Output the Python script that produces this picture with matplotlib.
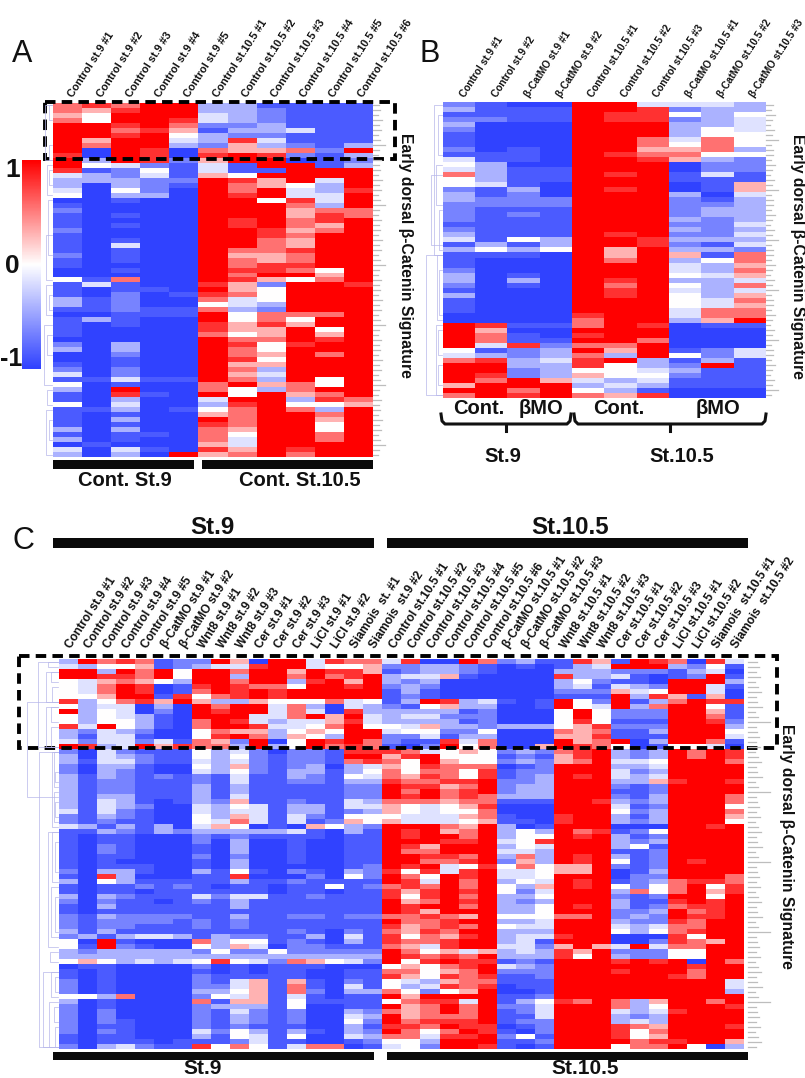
import numpy as np
import matplotlib
matplotlib.use('Agg')
import matplotlib.pyplot as plt
from matplotlib.colors import LinearSegmentedColormap
from matplotlib.patches import Rectangle

plt.rcParams['font.family'] = ['Liberation Sans', 'DejaVu Sans']

# expression levels, one digit per cell
# 0 = deep blue (-1), 5 = white (0), 9 = red (1)
level_values = [-1.0, -0.86, -0.65, -0.4, -0.15, 0.0, 0.3, 0.55, 0.8, 1.0]

rows_a = """
7 8 7 9 9 3 3 1 1 1 1
7 6 8 9 9 3 3 2 1 1 1
6 5 9 9 9 4 3 2 1 1 1
7 5 9 9 8 4 3 2 1 1 1
9 9 8 9 7 2 2 3 1 1 1
9 9 7 8 6 1 3 3 4 1 1
9 9 8 9 5 3 2 2 1 1 1
9 6 9 9 4 3 8 4 1 1 1
9 7 9 9 3 2 6 3 2 1 3
9 0 9 8 0 7 6 6 7 2 9
8 0 9 8 0 8 9 8 2 1 3
9 3 9 8 2 6 9 9 0 1 2
9 5 4 2 1 4 1 9 9 1 3
8 1 2 5 1 4 1 1 9 9 9
4 3 2 4 1 6 5 9 9 9 9
3 3 3 2 2 9 8 6 9 4 9
3 0 3 2 1 9 7 6 5 3 9
4 0 5 2 0 9 7 9 4 3 8
5 0 3 3 0 9 8 9 4 4 9
0 0 1 0 0 9 9 5 8 4 9
1 0 0 0 0 9 9 9 7 3 9
2 0 0 0 0 9 9 9 6 7 7
1 0 1 0 0 9 9 9 6 8 7
1 0 0 0 0 9 8 9 7 8 9
1 0 1 0 0 9 8 9 7 6 9
2 0 0 0 0 9 9 8 6 7 9
1 0 0 0 0 9 9 8 7 9 9
1 0 1 0 0 9 9 7 6 9 9
1 0 4 0 0 9 9 7 6 9 9
1 0 1 0 0 9 7 7 8 9 9
2 0 1 0 0 9 6 6 7 9 9
1 0 1 0 0 9 7 6 7 9 9
1 0 0 0 0 9 7 8 8 9 9
0 0 1 0 0 9 8 8 7 5 9
0 0 0 0 0 9 7 9 9 6 9
5 1 7 0 0 9 8 6 5 7 9
1 4 1 0 0 8 6 2 9 9 8
1 0 1 1 0 9 6 5 9 9 9
1 0 2 0 1 8 7 5 9 9 9
3 1 2 0 0 7 4 5 9 9 9
3 1 2 0 0 5 4 3 9 9 9
1 1 2 1 1 7 3 2 9 9 9
0 0 1 1 1 9 5 7 7 7 9
1 3 1 0 0 9 5 7 5 9 9
1 0 1 0 0 8 6 8 6 9 9
1 0 0 0 0 8 6 6 9 5 9
1 0 0 0 0 7 5 6 9 6 9
0 0 0 0 0 9 7 7 9 8 9
2 0 3 0 0 9 8 5 8 9 9
3 0 3 0 0 9 7 5 9 9 9
0 0 2 0 0 9 7 6 9 7 9
0 0 1 0 0 9 8 5 9 9 9
1 0 1 0 0 9 6 6 9 9 9
2 0 2 0 0 9 7 3 9 9 9
4 0 2 0 0 9 6 4 9 9 9
1 1 4 1 1 9 7 3 9 5 9
5 0 1 0 0 7 9 6 7 5 9
3 0 9 0 0 7 5 3 7 9 9
1 0 8 1 0 9 5 9 6 7 9
1 0 3 0 0 4 9 9 3 8 7
5 0 4 0 0 3 8 9 5 5 6
1 1 3 0 1 5 7 9 7 3 9
1 0 1 0 0 6 7 9 9 7 9
1 0 3 0 0 9 7 9 9 6 9
1 0 1 0 0 8 7 9 9 5 9
3 0 3 0 0 7 6 9 9 5 9
1 0 1 1 0 7 5 9 9 7 9
3 0 1 0 0 7 4 9 9 7 9
0 1 0 0 0 6 4 9 9 9 9
4 0 4 1 0 8 6 9 8 9 9
3 0 3 0 9 6 7 9 7 9 9
"""

rows_b = """
2 1 0 0 9 9 4 4 4 3
3 1 1 1 9 9 8 2 3 3
1 1 1 1 9 8 8 5 3 5
2 2 1 1 9 8 8 2 3 4
3 0 0 0 9 9 9 3 3 4
2 0 0 0 9 9 9 3 5 4
1 0 0 0 9 9 9 3 5 5
1 0 0 0 9 9 7 4 7 5
1 0 0 0 9 9 7 5 7 5
2 0 1 0 9 9 6 6 7 3
1 1 1 0 9 8 7 7 5 5
4 1 1 0 9 9 8 6 3 2
5 3 0 0 9 9 9 0 2 2
4 3 1 1 9 9 9 0 2 2
7 3 1 1 9 8 9 1 4 1
5 3 1 1 9 9 9 1 1 1
5 4 1 0 9 9 9 0 1 6
2 1 3 0 9 8 9 0 1 6
3 1 2 0 9 9 9 3 0 4
3 2 2 2 9 9 9 2 1 3
2 2 2 2 9 9 9 2 2 3
2 1 1 1 9 9 9 2 3 3
2 1 2 1 9 9 9 2 3 3
2 1 1 1 9 9 9 3 2 3
1 1 1 1 9 9 9 2 2 4
2 1 1 1 9 9 9 3 2 3
3 1 1 1 9 8 9 2 2 4
4 1 5 3 9 9 8 3 3 3
1 3 1 3 9 9 8 2 1 4
3 5 3 5 9 6 9 3 3 2
1 1 1 0 9 6 9 6 1 7
1 0 0 0 9 7 9 3 5 7
1 0 0 0 9 9 9 4 3 6
2 0 0 0 9 9 9 4 3 7
3 0 1 0 9 9 9 5 4 6
3 0 3 0 9 8 9 3 3 4
2 0 1 0 9 7 9 5 3 7
1 0 0 0 9 8 9 4 3 4
3 0 0 0 9 8 9 5 3 6
1 0 0 0 9 9 9 5 4 7
1 0 0 0 9 9 9 5 4 6
1 0 0 0 9 9 9 4 7 7
0 0 0 0 8 9 9 4 7 7
0 0 0 0 7 9 9 3 6 9
9 8 1 1 7 9 8 0 1 1
9 6 0 0 9 9 9 0 0 0
9 7 1 0 8 9 9 0 0 0
9 7 1 1 9 9 7 0 0 0
9 4 8 2 7 7 9 0 0 0
5 1 2 3 9 6 9 1 2 4
4 3 2 3 7 3 9 5 2 4
7 8 3 4 8 9 3 1 3 1
9 9 3 3 8 5 3 2 9 1
9 9 2 3 5 5 4 3 1 1
9 8 2 3 6 5 5 2 1 1
9 7 9 6 4 3 4 1 1 1
6 9 9 9 3 4 3 1 1 1
9 9 7 9 5 3 1 0 0 0
7 9 8 9 7 6 8 0 0 0
"""

rows_c_st9 = """
3 9 7 8 7 1 2 2 9 6 0 9 9 4 8 7 7
4 3 5 5 6 1 2 3 4 4 8 9 9 4 5 5 6
9 9 3 9 7 9 5 9 9 7 9 9 6 9 8 8 6
9 9 8 8 7 9 5 9 9 3 9 9 7 9 7 8 9
5 4 6 7 6 5 3 9 9 7 9 9 3 8 9 6 9
5 4 7 9 8 0 1 8 9 8 7 7 5 9 9 8 9
5 4 7 9 8 0 1 7 9 8 9 8 9 9 9 9 9
5 5 6 9 9 1 8 5 7 8 9 8 9 9 9 9 9
8 3 5 7 8 6 9 6 3 3 6 5 5 5 7 4 5
5 3 4 4 0 3 0 9 7 9 9 4 7 3 0 4 3
9 3 5 4 0 2 0 9 8 9 9 4 7 4 0 8 3
5 3 5 4 3 1 0 9 9 9 4 4 7 9 6 9 4
5 3 5 5 3 1 0 7 9 8 4 3 4 4 6 8 4
8 4 9 5 3 1 0 7 9 9 8 4 4 5 7 9 5
3 2 4 3 2 0 0 5 7 6 6 3 5 6 5 9 9
3 1 4 4 1 0 0 5 8 9 7 3 6 5 3 9 9
4 2 4 4 2 4 1 7 6 2 9 0 5 9 8 9 7
9 8 3 4 9 6 8 7 7 3 9 3 5 9 7 8 7
2 0 4 2 1 1 1 5 3 4 2 0 2 2 1 8 8
3 0 4 3 2 1 1 5 3 5 2 1 2 2 1 9 9
3 1 4 4 2 1 1 4 3 4 2 1 2 2 1 7 8
2 0 3 3 1 0 0 5 3 6 2 1 2 3 0 3 4
2 0 3 2 1 0 0 4 3 5 2 1 3 3 1 3 5
3 1 3 2 1 2 1 2 1 4 1 1 3 2 1 5 4
3 1 2 2 1 1 1 2 1 4 1 1 2 2 1 3 3
3 1 2 2 1 1 1 3 1 3 1 1 1 1 1 2 2
3 1 2 2 1 1 1 3 1 3 1 1 1 1 1 2 2
3 1 3 3 1 1 1 3 1 4 1 1 1 1 1 2 2
3 1 4 3 1 0 1 3 2 6 1 1 2 1 1 4 3
3 1 4 3 2 0 0 4 3 5 4 1 3 3 1 4 4
4 1 4 2 1 0 0 4 3 4 4 1 3 3 1 2 3
2 1 3 2 1 0 0 5 3 6 4 1 4 2 1 5 5
2 1 2 1 1 0 0 5 4 7 4 1 4 1 2 6 5
4 3 1 3 1 3 0 4 6 5 0 1 0 6 5 3 2
1 1 3 2 1 3 2 3 3 3 3 3 4 1 0 3 1
1 0 1 1 0 0 0 2 1 2 1 1 1 1 0 1 1
1 0 1 1 0 0 0 2 0 3 0 0 1 0 0 1 1
1 0 2 1 0 0 0 1 0 3 0 0 1 0 0 1 1
1 0 2 1 0 0 0 1 0 3 0 0 1 0 0 1 1
1 0 1 1 0 0 0 2 0 2 0 0 1 0 0 1 1
1 0 1 0 0 0 0 1 0 3 0 0 1 0 0 1 1
1 0 1 1 1 0 0 1 0 3 0 0 0 0 0 1 2
2 0 3 3 1 0 0 3 1 5 1 0 2 1 0 3 2
1 0 8 3 0 0 0 1 1 8 0 0 0 2 0 5 2
3 0 5 3 1 1 1 1 1 3 1 1 2 1 1 1 1
1 0 1 1 2 1 2 1 0 1 1 0 1 1 5 1 2
1 0 1 1 0 1 1 1 1 1 1 0 1 1 0 1 1
3 0 3 2 1 1 1 4 2 4 4 1 1 2 1 1 1
2 0 2 1 1 0 1 2 1 3 1 1 1 1 1 1 1
1 0 3 1 1 1 1 1 1 3 1 1 1 1 1 1 1
1 0 1 1 1 1 1 1 1 1 1 1 1 1 1 1 1
2 1 3 2 2 2 2 1 1 3 1 1 2 2 1 2 2
2 1 2 2 2 2 1 2 1 2 1 1 1 1 1 1 1
2 1 2 2 1 1 1 2 1 2 1 1 1 1 1 1 1
3 1 3 1 1 1 1 1 1 1 1 1 2 1 0 2 1
2 3 1 3 4 4 3 1 3 2 2 1 1 3 0 4 1
5 0 9 1 0 0 0 7 3 5 5 1 2 1 0 3 1
5 1 9 2 1 0 0 5 3 6 4 0 2 2 1 1 1
3 2 3 3 3 3 3 2 5 2 2 5 2 2 2 2 2
3 3 3 3 3 3 3 3 3 3 3 3 3 3 3 3 3
5 6 5 3 4 3 4 5 8 5 4 2 7 6 5 4 2
0 1 1 0 0 0 0 2 0 1 0 1 1 1 0 0 0
1 0 1 0 0 0 0 1 0 1 0 1 1 0 0 1 1
1 0 1 0 0 0 0 2 1 1 1 1 1 0 0 1 1
2 0 1 0 0 0 0 2 1 4 6 1 6 1 0 2 1
2 0 1 0 0 0 0 2 2 4 6 1 7 1 0 4 1
2 0 1 0 0 0 0 3 3 5 6 1 7 2 0 3 3
5 5 3 7 0 0 0 2 5 4 6 1 4 1 0 1 1
3 0 1 0 0 0 0 7 1 6 6 1 5 1 1 1 1
2 0 1 0 0 0 0 2 3 3 3 1 5 0 0 1 1
2 0 2 0 0 0 0 2 1 4 2 1 2 0 0 3 2
2 0 2 0 0 0 0 2 1 3 2 1 2 0 0 4 3
2 0 2 1 0 0 0 2 1 3 2 1 2 0 0 5 2
2 0 1 1 0 0 0 2 1 2 1 1 1 0 0 3 1
2 0 2 1 0 0 0 4 2 5 3 1 3 1 0 3 2
1 0 1 1 0 0 0 3 1 5 4 1 5 0 0 4 3
1 0 1 1 1 0 1 1 1 2 4 1 1 0 0 1 2
2 0 3 4 2 1 1 8 5 7 5 1 4 7 7 0 1
"""

rows_c_st105 = """
4 8 0 0 9 7 2 3 1 1 8 6 1 9 8 7 0 8 4
2 2 3 3 2 1 0 1 0 1 3 4 9 9 9 3 2 5 1
1 2 3 3 2 1 0 0 0 3 3 3 2 2 2 1 3 4 0
3 4 4 6 1 0 0 0 0 8 3 3 4 1 0 1 2 9 1
3 2 3 0 0 0 0 0 0 3 5 2 1 1 0 9 9 9 3
2 3 2 0 0 0 0 0 0 3 4 1 4 3 2 9 9 4 1
1 3 1 0 0 0 0 0 0 2 2 2 6 4 5 9 9 4 0
1 2 1 0 0 0 0 0 0 1 1 1 9 3 8 6 1 6 0
1 3 9 8 3 4 1 0 1 9 5 2 9 1 3 7 9 8 8
2 1 5 6 3 3 0 0 1 9 5 4 9 3 7 9 9 5 1
3 3 3 3 1 2 0 0 0 5 9 5 2 2 2 9 9 6 1
3 4 4 2 2 2 0 0 0 5 9 5 2 2 2 9 9 7 1
3 3 3 3 1 2 0 0 0 5 8 5 1 1 1 9 9 8 2
5 4 6 3 3 2 3 3 3 5 6 8 2 2 2 9 9 9 3
4 5 5 2 2 5 0 0 0 7 6 7 1 1 3 9 9 9 5
2 2 4 1 3 3 0 0 0 6 6 8 1 1 1 9 9 9 4
2 1 1 8 4 7 0 0 0 9 6 7 9 0 3 9 9 7 1
1 0 2 9 5 7 0 0 6 9 8 7 5 0 1 5 5 4 0
8 7 4 5 6 5 2 3 2 7 8 9 3 2 3 9 7 9 8
6 8 9 5 5 5 1 2 1 6 8 9 3 2 3 9 7 9 8
7 5 9 6 5 5 2 3 2 6 7 9 4 4 5 9 9 9 7
6 5 8 7 7 7 0 1 2 9 9 9 3 3 4 9 9 9 9
7 5 7 7 5 8 1 2 2 9 9 9 4 2 3 9 9 9 9
7 6 8 7 5 8 1 2 3 9 8 9 4 3 4 9 9 9 9
8 7 7 8 8 9 2 2 3 9 9 9 3 3 6 8 9 9 8
9 8 8 6 7 9 2 3 3 9 9 9 2 1 2 9 9 9 9
9 7 9 7 8 9 2 3 3 9 9 9 1 1 2 9 9 9 9
9 8 9 7 8 7 3 3 3 9 9 9 2 1 3 9 9 9 7
7 7 7 6 7 7 1 1 1 9 9 8 3 2 3 9 9 9 7
6 5 4 5 6 8 0 0 0 9 9 9 4 1 2 9 9 9 5
6 5 4 5 5 7 0 0 0 9 9 9 5 2 3 9 9 9 7
5 4 4 4 6 7 1 0 0 8 9 9 3 1 3 9 9 9 6
6 4 4 4 5 6 1 1 0 8 9 9 3 2 3 9 9 9 5
9 9 9 7 6 9 3 0 1 9 9 9 0 0 0 9 9 8 9
9 8 9 6 7 9 3 5 3 9 7 8 1 2 5 9 9 9 9
9 8 9 9 7 9 3 5 5 9 8 9 3 1 2 9 9 9 9
9 9 9 8 8 9 4 5 8 9 9 9 3 2 3 9 9 9 9
9 8 6 9 9 9 3 5 4 9 9 9 3 5 1 9 9 9 9
9 7 7 9 9 9 4 4 3 9 9 9 1 1 2 9 9 9 9
9 9 8 8 7 9 3 7 3 9 8 9 3 1 2 9 9 9 9
9 9 7 7 8 9 2 6 3 9 8 9 5 1 2 9 8 9 9
9 8 9 4 5 8 5 7 5 6 6 9 2 1 2 9 9 9 9
8 5 8 4 8 9 4 4 5 6 6 9 0 1 3 9 9 9 9
9 7 5 9 8 9 4 4 5 9 9 9 0 2 2 9 9 9 7
9 8 4 9 7 9 3 5 4 9 8 9 1 2 3 7 8 8 7
7 8 7 9 7 9 5 3 6 9 8 9 5 2 5 7 9 5 8
8 6 8 9 8 9 5 2 4 9 9 9 3 7 5 7 9 6 8
8 5 8 9 7 9 3 3 5 9 9 9 2 1 2 9 9 5 9
9 6 7 9 8 9 3 2 3 9 9 9 3 1 1 8 9 8 9
9 8 9 9 7 9 3 3 5 9 8 9 3 1 2 7 8 8 9
9 8 6 9 9 9 3 3 5 9 9 9 2 2 3 9 7 8 9
7 7 8 7 6 9 5 5 5 7 7 9 2 3 2 9 8 8 9
9 7 7 8 9 9 3 3 4 9 9 9 3 2 2 8 7 9 9
8 6 7 8 7 9 5 4 4 9 9 9 4 3 4 7 7 9 9
7 6 8 7 9 9 3 3 3 9 9 9 5 3 5 7 8 9 9
8 5 7 6 8 9 3 4 4 8 9 9 0 0 0 8 5 9 9
8 7 7 8 9 9 3 4 1 9 9 9 0 0 2 8 7 6 9
7 6 4 8 9 9 4 4 2 6 9 6 4 9 4 7 7 9 9
9 7 5 6 4 6 3 4 3 8 6 9 2 2 2 5 5 9 9
9 8 7 8 7 9 3 3 3 8 5 9 3 2 2 5 5 9 9
9 5 8 9 8 8 1 2 1 9 9 9 8 9 8 9 0 9 7
5 6 5 7 8 9 4 3 2 9 9 9 9 9 9 9 8 9 9
7 7 5 6 7 9 2 2 2 9 9 9 8 9 9 9 7 9 9
8 6 5 8 7 8 1 1 2 9 9 9 9 9 9 8 7 9 9
5 4 3 6 7 7 1 1 1 9 9 9 9 9 9 9 9 9 4
5 3 4 8 7 8 0 1 1 9 9 9 9 9 9 9 9 9 4
7 5 2 5 6 9 0 0 1 9 9 9 9 9 9 9 9 9 3
9 6 9 9 9 9 1 1 2 9 9 9 9 9 9 9 9 9 9
5 7 8 8 4 9 1 3 5 8 7 9 7 3 6 9 9 7 9
9 6 7 9 7 9 2 2 4 9 9 9 7 3 5 9 9 9 8
7 6 7 9 7 9 1 2 4 9 9 9 4 3 4 8 9 9 9
9 6 7 7 7 9 1 1 4 9 9 9 3 2 3 9 9 9 9
9 7 8 8 8 9 1 2 2 9 9 9 3 4 3 9 9 9 9
8 8 7 9 8 8 0 1 2 9 9 9 8 7 6 9 9 9 8
9 7 5 7 9 8 1 0 2 9 9 9 8 5 7 9 9 9 9
7 7 4 8 8 9 2 5 1 9 9 9 8 5 6 9 9 9 9
5 5 3 9 9 9 1 1 2 9 9 9 9 7 8 8 9 9 6
4 5 2 9 9 8 1 0 1 9 9 9 5 7 7 9 5 0 3
"""

labels_a = ['Control st.9 #1', 'Control st.9 #2', 'Control st.9 #3', 'Control st.9 #4',
            'Control st.9 #5', 'Control st.10.5 #1', 'Control st.10.5 #2', 'Control st.10.5 #3',
            'Control st.10.5 #4', 'Control st.10.5 #5', 'Control st.10.5 #6']
labels_b = ['Control st.9 #1', 'Control st.9 #2', 'β-CatMO st.9 #1', 'β-CatMO st.9 #2',
            'Control st.10.5 #1', 'Control st.10.5 #2', 'Control st.10.5 #3',
            'β-CatMO st.10.5 #1', 'β-CatMO st.10.5 #2', 'β-CatMO st.10.5 #3']
labels_c = ['Control st.9 #1', 'Control st.9 #2', 'Control st.9 #3', 'Control st.9 #4',
            'Control st.9 #5', 'β-CatMO st.9 #1', 'β-CatMO st.9 #2', 'Wnt8 st.9 #1',
            'Wnt8 st.9 #2', 'Wnt8 st.9 #3', 'Cer st.9 #1', 'Cer st.9 #2', 'Cer st.9 #3',
            'LiCl st.9 #1', 'LiCl st.9 #2', 'Siamois  st. #1', 'Siamois  st.9 #2',
            'Control st.10.5 #1', 'Control st.10.5 #2', 'Control st.10.5 #3',
            'Control st.10.5 #4', 'Control st.10.5 #5', 'Control st.10.5 #6',
            'β-CatMO st.10.5 #1', 'β-CatMO st.10.5 #2', 'β-CatMO st.10.5 #3',
            'Wnt8 st.10.5 #1', 'Wnt8 st.10.5 #2', 'Wnt8 st.10.5 #3',
            'Cer st.10.5 #1', 'Cer st.10.5 #2', 'Cer st.10.5 #3',
            'LiCl st.10.5 #1', 'LiCl st.10.5 #2', 'Siamois  st.10.5 #1', 'Siamois  st.10.5 #2']

# dendrogram brackets: first row, last row, depth
dend_a = [(0, 11, 7), (0, 3, 3), (8, 11, 3), (12, 18, 5), (13, 16, 3), (19, 30, 4), (26, 35, 6),
          (36, 42, 6), (38, 41, 3), (44, 56, 8), (46, 50, 5), (57, 60, 5), (61, 70, 6), (63, 67, 3)]
dend_b = [(0, 30, 8), (2, 10, 4), (12, 20, 6), (14, 28, 11), (21, 29, 3), (30, 43, 5), (30, 58, 16),
          (44, 58, 6), (45, 50, 4), (52, 56, 4), (33, 42, 3)]
dend_c = [(0, 17, 20), (2, 8, 12), (9, 17, 12), (2, 4, 7), (5, 8, 6), (9, 12, 7), (13, 17, 7),
          (0, 1, 10), (8, 27, 31), (18, 77, 19), (18, 33, 6), (34, 57, 10), (34, 44, 6), (45, 55, 7),
          (62, 67, 7), (68, 77, 9), (58, 60, 8), (62, 77, 15), (18, 25, 4), (26, 32, 4), (36, 42, 3),
          (47, 54, 3), (69, 72, 4), (73, 77, 3), (22, 24, 3), (28, 31, 3), (63, 66, 3)]

# row label stubs, the gene names are too small to read
stub_lengths_a = [6, 7, 5, 9, 6, 8, 5, 7, 12, 6, 5, 8]
stub_lengths_b = [7, 5, 9, 6, 4, 8, 6, 12, 5, 7]
stub_lengths_c = [9, 11, 8, 12, 7, 10, 13, 8, 9, 14, 7, 10, 22, 8]


def parse_rows(text):
    return np.array([[level_values[int(c)] for c in line.split()] for line in text.strip().splitlines()])


data_a = parse_rows(rows_a)
data_b = parse_rows(rows_b)
data_c = np.hstack([parse_rows(rows_c_st9), parse_rows(rows_c_st105)])

cmap = LinearSegmentedColormap.from_list('bwr2', ['#3042ff', '#ffffff', '#ff0000'])

W, H = 805, 1078
fig = plt.figure(figsize=(W / 100, H / 100), dpi=100, facecolor='white')


def pixel_axes(x0, y0, x1, y1):
    ax = fig.add_axes([x0 / W, 1 - y1 / H, (x1 - x0) / W, (y1 - y0) / H])
    ax.axis('off')
    return ax


def heatmap(data, x0, y0, x1, y1):
    ax = pixel_axes(x0, y0, x1, y1)
    ax.imshow(data, cmap=cmap, vmin=-1, vmax=1, aspect='auto', interpolation='nearest')


heatmap(data_a, 53, 103, 372, 457)
heatmap(data_b, 443, 102, 765, 398)
heatmap(data_c, 59, 659, 744, 1049)

# colour scale
cb = pixel_axes(22, 160, 41, 369)
cb.imshow(np.linspace(1, -1, 200).reshape(-1, 1), cmap=cmap, vmin=-1, vmax=1, aspect='auto')

# overlay in pixel coordinates for all the annotation
ov = fig.add_axes([0, 0, 1, 1], zorder=5)
ov.set_xlim(0, W)
ov.set_ylim(H, 0)
ov.axis('off')
ov.patch.set_alpha(0)


def col_labels(labels, x0, x1, y, size, rot, dx=0):
    step = (x1 - x0) / len(labels)
    for i, lab in enumerate(labels):
        ov.text(x0 + step * (i + 0.5) + dx, y, lab, fontsize=size, fontweight='bold', rotation=rot,
                rotation_mode='anchor', ha='left', va='center', color='#111111')


col_labels(labels_a, 53, 372, 96, 7.8, 57, dx=3)
col_labels(labels_b, 443, 765, 96, 7.3, 57, dx=3)
col_labels(labels_c, 59, 744, 647, 8.6, 57, dx=0)


def dendrogram(brackets, x_right, y0, y1, nrows):
    h = (y1 - y0) / nrows
    for first, last, depth in brackets:
        ya = y0 + (first + 0.5) * h
        yb = y0 + (last + 0.5) * h
        x = x_right - depth
        ov.plot([x_right, x, x, x_right], [ya, ya, yb, yb], color='#b6b6ea', lw=0.5, solid_joinstyle='miter')


dendrogram(dend_a, 52, 103, 457, len(data_a))
dendrogram(dend_b, 442, 102, 398, len(data_b))
dendrogram(dend_c, 58, 659, 1049, len(data_c))


def stubs(lengths, x, y0, y1, nrows):
    h = (y1 - y0) / nrows
    for i in range(nrows):
        yy = y0 + (i + 0.5) * h
        ov.plot([x, x + lengths[i % len(lengths)]], [yy, yy], color='#bdbdbd', lw=0.9)


stubs(stub_lengths_a, 373, 103, 457, len(data_a))
stubs(stub_lengths_b, 766, 102, 398, len(data_b))
stubs(stub_lengths_c, 748, 659, 1049, len(data_c))

# dashed boxes
dash = (0, (2.7, 1.6))
ov.add_patch(Rectangle((45, 102), 350, 57, fill=False, ec='black', lw=2.8, ls=dash))
ov.add_patch(Rectangle((19, 656), 758, 92, fill=False, ec='black', lw=2.8, ls=dash))

# black bars
for x0, x1, y0, y1 in [(53, 194, 460, 469), (202, 373, 460, 469), (53, 374, 538, 548),
                       (387, 748, 538, 548), (53, 374, 1052, 1060), (387, 748, 1052, 1060)]:
    ov.add_patch(Rectangle((x0, y0), x1 - x0, y1 - y0, fc='#0a0a0a', ec='none'))


def bracket(x0, x1, xt):
    ov.plot([x0, x0 + 1, x0 + 4, x1 - 4, x1 - 1, x1], [414, 421, 424, 424, 421, 414], color='#111111', lw=2.2)
    ov.plot([xt, xt], [424, 431], color='#111111', lw=2.2)


bracket(441, 571, 506)
bracket(574, 766, 670)


def bold(x, y, s, size, **kw):
    ov.text(x, y, s, fontsize=size, fontweight='bold', ha='center', va='center', color='#111111', **kw)


bold(125, 481, 'Cont. St.9', 14.5)
bold(300, 481, 'Cont. St.10.5', 14.5)
bold(479, 409, 'Cont.', 14.5)
bold(541, 409, 'βMO', 14.5)
bold(619, 409, 'Cont.', 14.5)
bold(718, 409, 'βMO', 14.5)
bold(503, 456, 'St.9', 14.5)
bold(682, 456, 'St.10.5', 14.5)
bold(212, 528, 'St.9', 17.3)
bold(570, 528, 'St.10.5', 17.3)
bold(203, 1069, 'St.9', 15)
bold(585, 1069, 'St.10.5', 15)

bold(13, 170, '1', 19)
bold(12, 266, '0', 19)
bold(11, 359, '-1', 18)

for x, y in [(405, 255), (797, 256), (786, 846)]:
    bold(x, y, 'Early dorsal β-Catenin Signature', 11.3, rotation=-90)

for x, y, s in [(22, 54, 'A'), (430, 54, 'B'), (23, 541, 'C')]:
    ov.text(x, y, s, fontsize=22, ha='center', va='center', color='#111111')

fig.savefig('out.png', dpi=100)
